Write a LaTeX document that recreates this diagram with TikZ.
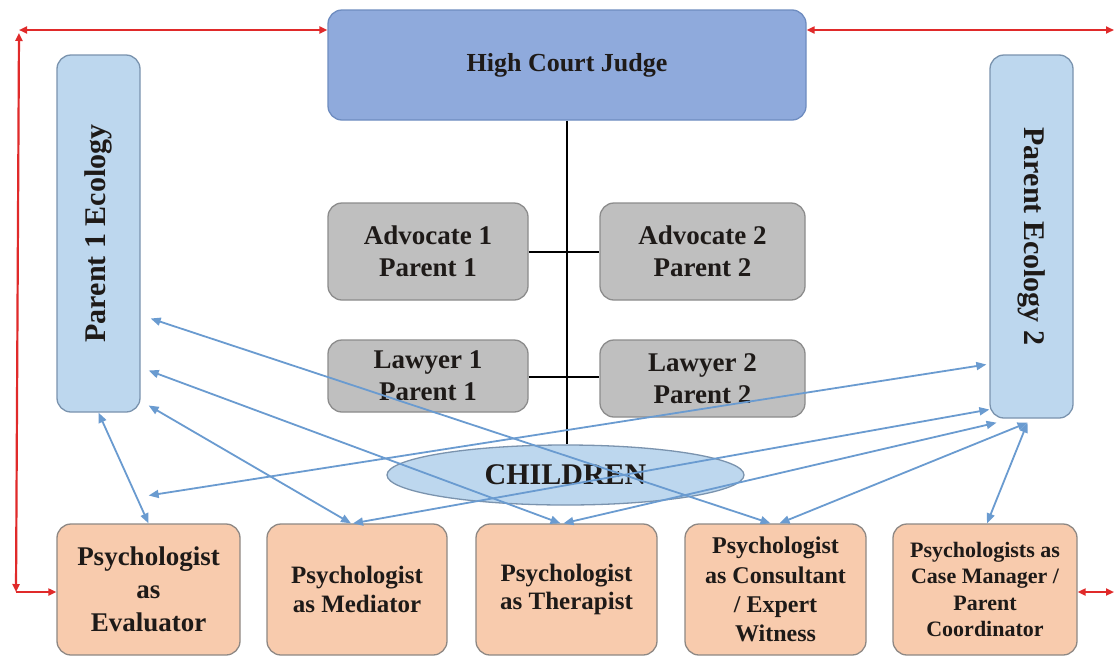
\documentclass[tikz,border=0pt]{standalone}
\usepackage{fontspec}
\setmainfont{Liberation Serif}
\usetikzlibrary{arrows.meta,calc,shapes.geometric}
\definecolor{judgefill}{HTML}{8FAADC}
\definecolor{judgeline}{HTML}{6E8CC0}
\definecolor{pfill}{HTML}{BDD7EE}
\definecolor{pline}{HTML}{7A93AE}
\definecolor{gfill}{HTML}{BFBFBF}
\definecolor{gline}{HTML}{8C8C8C}
\definecolor{ofill}{HTML}{F8CBAD}
\definecolor{oline}{HTML}{8E8884}
\definecolor{barrow}{HTML}{6A9BD0}
\definecolor{rarrow}{HTML}{E02A2A}
\definecolor{txt}{HTML}{1E1A18}
\begin{document}
\begin{tikzpicture}[x=1pt,y=-1pt,
  box/.style={draw, line width=1.3pt, rounded corners=14pt, inner sep=0pt, align=center, text=txt},
  judgebox/.style={box, fill=judgefill, draw=judgeline},
  parentbox/.style={box, fill=pfill, draw=pline},
  graybox/.style={box, fill=gfill, draw=gline, font=\bfseries\fontsize{27}{32}\selectfont},
  psybox/.style={box, fill=ofill, draw=oline, minimum height=131pt},
  vtext/.style={text=txt, font=\bfseries\fontsize{30}{34}\selectfont},
  blink/.style={draw=black, line width=2pt},
  barr/.style={draw=barrow, line width=1.8pt, {Triangle[length=10pt,width=8pt]}-{Triangle[length=10pt,width=8pt]}},
  rarr/.style={draw=rarrow, line width=2.2pt},
  rtip/.style={-{Triangle[length=8pt,width=7pt]}},
  rtips/.style={{Triangle[length=8pt,width=7pt]}-{Triangle[length=8pt,width=7pt]}}
]
\useasboundingbox (0,0) rectangle (1115,659);
\fill[white] (0,0) rectangle (1115,659);

% nodes
\node[judgebox, minimum width=478pt, minimum height=110pt, font=\bfseries\fontsize{26}{30}\selectfont] (Judge) at (567,65) {\raisebox{-4pt}{High Court Judge}};
\node[parentbox, minimum width=83pt, minimum height=357pt] (P1) at (98.5,233.5) {};
\node[vtext, rotate=90] (P1t) at (P1) {Parent 1 Ecology};
\node[parentbox, minimum width=83pt, minimum height=363pt] (P2) at (1031.5,236.5) {};
\node[vtext, rotate=-90] (P2t) at (P2) {Parent Ecology 2};
\node[graybox, minimum width=200pt, minimum height=97pt] (Adv1) at (428,251.5) {Advocate 1\\Parent 1};
\node[graybox, minimum width=205pt, minimum height=97pt] (Adv2) at (702.5,251.5) {Advocate 2\\Parent 2};
\node[graybox, minimum width=200pt, minimum height=72pt] (Law1) at (428,376) {Lawyer 1\\Parent 1};
\node[graybox, minimum width=205pt, minimum height=77pt] (Law2) at (702.5,378.5) {Lawyer 2\\Parent 2};
\node[ellipse, draw=pline, fill=pfill, line width=1.3pt, minimum width=357pt, minimum height=60pt, inner sep=0pt, text=txt, font=\bfseries\fontsize{30}{34}\selectfont] (Child) at (565.5,475) {CHILDREN};

\node[psybox, minimum width=183pt, font=\bfseries\fontsize{27}{33}\selectfont] (Eval) at (148.5,589.5) {Psychologist\\as\\Evaluator};
\node[psybox, minimum width=180pt, font=\bfseries\fontsize{25}{28.5}\selectfont] (Med) at (357,589.5) {Psychologist\\as Mediator};
\node[psybox, minimum width=181pt, font=\bfseries\fontsize{25}{28.5}\selectfont] (Ther) at (566.5,589.5) {Psychologist\\as Therapist};
\node[psybox, minimum width=181pt, font=\bfseries\fontsize{24}{29.3}\selectfont] (Cons) at (775.5,589.5) {Psychologist\\as Consultant\\/ Expert\\Witness};
\node[psybox, minimum width=184pt, font=\bfseries\fontsize{22}{26.5}\selectfont] (Case) at (985,589.5) {Psychologists as\\Case Manager /\\Parent\\Coordinator};

% black connectors
\draw[blink] (Judge.south) -- (Judge.south |- Child.north);
\draw[blink] (Adv1.east) -- (Adv2.west);
\draw[blink] ($(Law1.east)+(0,1)$) -- ($(Law1.east -| Law2.west)+(0,1)$);

% blue arrows
\draw[barr] (P1.south) -- (Eval.north);
\draw[barr] ($(P1.east)+(10,85)$) -- ($(Cons.north)+(-5,0)$);
\draw[barr] ($(P1.east)+(8,137)$) -- ($(Ther.north)+(-6,0)$);
\draw[barr] ($(P1.east)+(8,172)$) -- ($(Med.north)+(-6,0)$);
\draw[barr] ($(P1.east)+(8,262)$) -- ($(P2.west)+(-3,128)$);
\draw[barr] ($(Med.north)+(-4,0)$) -- ($(P2.west)+(0,173)$);
\draw[barr] ($(Ther.north)+(-3,0)$) -- ($(P2.south)+(-35,4)$);
\draw[barr] ($(Cons.north)+(4,0)$) -- ($(P2.south)+(-4,4)$);
\draw[barr] ($(Case.north)+(2,0)$) -- ($(P2.south)+(-4,4)$);

% red arrows
\coordinate (tl) at (19,30);
\coordinate (bl) at (16,592);
\coordinate (tr) at (1114,30);
\coordinate (br) at (1114,592);
\draw[rarr, rtips] (Judge.west |- tl) -- (tl);
\draw[rarr, rtips] ($(tl)+(0,3)$) -- (bl);
\draw[rarr, rtip] (bl) -- (Eval.west |- bl);
\draw[rarr, rtips] (Judge.east |- tr) -- (tr);
\draw[draw=rarrow!35, line width=1.5pt] ($(tr)+(2,0)$) -- ($(br)+(2,0)$);
\draw[rarr, rtips] (br) -- (Case.east |- br);
\end{tikzpicture}
\end{document}
